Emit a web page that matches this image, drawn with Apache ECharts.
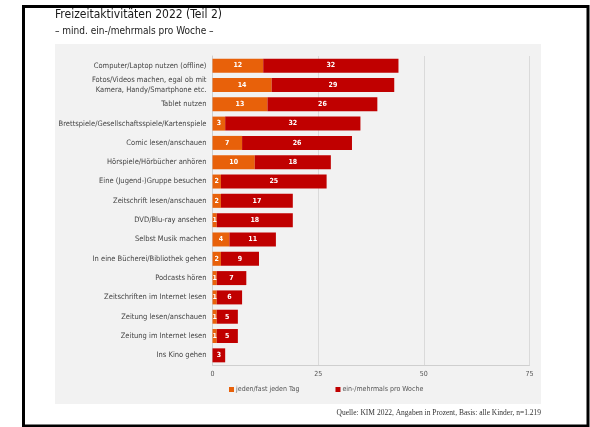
<!DOCTYPE html>
<html>
<head>
<meta charset="utf-8">
<script src="https://cdn.jsdelivr.net/npm/echarts@6/dist/echarts.min.js"></script>
<style>
  html, body { margin: 0; padding: 0; background: #fff; }
  #chart { width: 590px; height: 427px; }
</style>
</head>
<body>
<div id="chart"></div>
<script>
// Freizeitaktivitäten 2022 (Teil 2) – KIM 2022
const categories = [
  'Computer/Laptop nutzen (offline)',
  'Fotos/Videos machen, egal ob mit\nKamera, Handy/Smartphone etc.',
  'Tablet nutzen',
  'Brettspiele/Gesellschaftsspiele/Kartenspiele',
  'Comic lesen/anschauen',
  'Hörspiele/Hörbücher anhören',
  'Eine (Jugend-)Gruppe besuchen',
  'Zeitschrift lesen/anschauen',
  'DVD/Blu-ray ansehen',
  'Selbst Musik machen',
  'In eine Bücherei/Bibliothek gehen',
  'Podcasts hören',
  'Zeitschriften im Internet lesen',
  'Zeitung lesen/anschauen',
  'Zeitung im Internet lesen',
  'Ins Kino gehen'
];
const dailyValues  = [12, 14, 13, 3, 7, 10, 2, 2, 1, 4, 2, 1, 1, 1, 1, 0];
const weeklyValues = [32, 29, 26, 32, 26, 18, 25, 17, 18, 11, 9, 7, 6, 5, 5, 3];
const xTicks = { min: 0, max: 75, interval: 25 };
const seriesNames = ['jeden/fast jeden Tag', 'ein-/mehrmals pro Woche'];

const ORANGE = '#E8610A';
const RED = '#C00000';
const SANS = '"DejaVu Sans Condensed", "Liberation Sans Narrow", "Open Sans", sans-serif';

const chart = echarts.init(document.getElementById('chart'), null, { renderer: 'canvas' });

const barLabel = {
  show: true,
  position: 'inside',
  color: '#fff',
  fontSize: 7,
  fontWeight: 'bold',
  fontFamily: SANS,
  formatter: p => (p.value ? String(p.value) : '')
};

chart.setOption({
  animation: false,
  backgroundColor: '#fff',
  graphic: [
    { type: 'rect', z: -10, shape: { x: 55, y: 44, width: 486, height: 360 },
      style: { fill: '#F2F2F2' } },
    { type: 'rect', z: 100, shape: { x: 23.5, y: 6.5, width: 564.5, height: 419.5 },
      style: { fill: 'none', stroke: '#000', lineWidth: 3 } },
    { type: 'text', left: 55, top: 9,
      style: { text: 'Freizeitaktivitäten 2022 (Teil 2)', fill: '#1a1a1a',
               font: '12px "DejaVu Sans Condensed", "Open Sans", sans-serif' } },
    { type: 'text', left: 55, top: 26,
      style: { text: '– mind. ein-/mehrmals pro Woche –', fill: '#1a1a1a',
               font: '10px "DejaVu Sans Condensed", "Open Sans", sans-serif' } },
    { type: 'text', right: 49, top: 409,
      style: { text: 'Quelle: KIM 2022, Angaben in Prozent, Basis: alle Kinder, n=1.219',
               fill: '#333', font: '7.5px "Liberation Serif", "DejaVu Serif", serif' } }
  ],
  legend: {
    data: seriesNames,
    top: 381,
    left: 224,
    itemGap: 36,
    itemWidth: 5,
    itemHeight: 5,
    icon: 'rect',
    textStyle: { fontSize: 7, color: '#555', fontFamily: SANS, padding: [0, 0, 0, -3] }
  },
  grid: { left: 212.5, right: 60.5, top: 56, bottom: 62, containLabel: false },
  xAxis: {
    type: 'value',
    min: xTicks.min, max: xTicks.max, interval: xTicks.interval,
    axisLine: { show: true, lineStyle: { color: '#CFCFCF' } },
    axisTick: { show: false },
    axisLabel: { fontSize: 7, color: '#555', fontFamily: SANS, margin: 6 },
    splitLine: { show: true, lineStyle: { color: '#DADADA' } }
  },
  yAxis: {
    type: 'category',
    data: categories,
    inverse: true,
    axisLine: { show: true, lineStyle: { color: '#CFCFCF' } },
    axisTick: { show: false },
    axisLabel: { fontSize: 7.5, color: '#444', fontFamily: SANS, margin: 6,
                 align: 'right', lineHeight: 10 }
  },
  series: [
    { name: seriesNames[0], type: 'bar', stack: 'total', data: dailyValues,
      barWidth: 14, itemStyle: { color: ORANGE }, label: barLabel },
    { name: seriesNames[1], type: 'bar', stack: 'total', data: weeklyValues,
      barWidth: 14, itemStyle: { color: RED }, label: barLabel }
  ]
});
</script>
</body>
</html>
